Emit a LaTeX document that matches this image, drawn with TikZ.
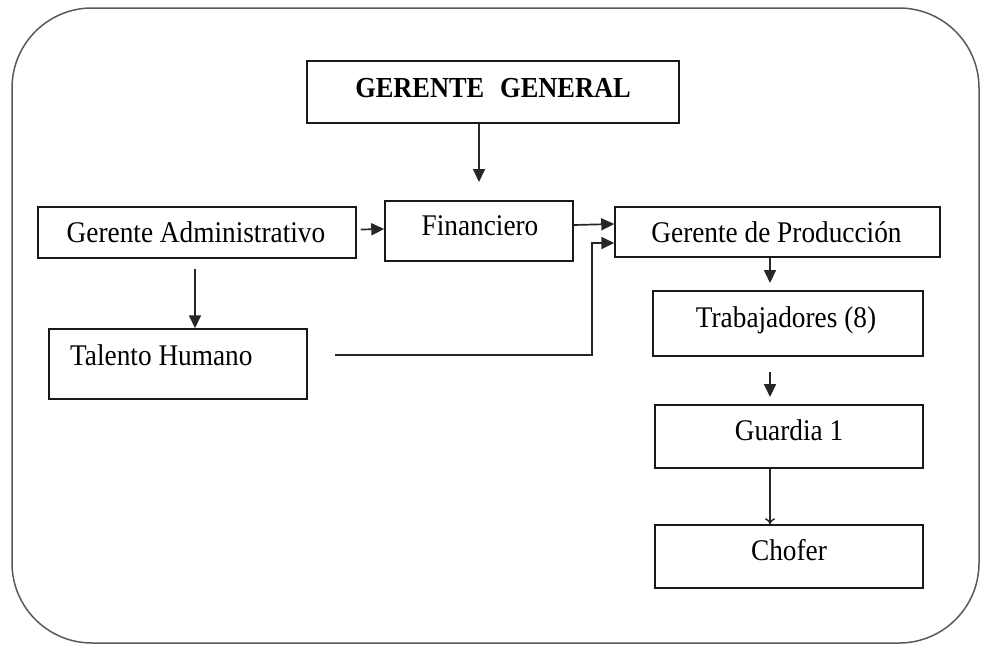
\documentclass[tikz,border=0pt]{standalone}
\usepackage{fontspec}
\setmainfont{Liberation Serif}[FakeStretch=0.91]
\usetikzlibrary{arrows.meta}
\begin{document}
\begin{tikzpicture}[x=1pt,y=-1pt,
  box/.style={draw=black!90, line width=1.5pt, rectangle, inner sep=0pt},
  lbl/.style={inner sep=0pt, anchor=base, font=\fontsize{30}{34}\selectfont},
  arr/.style={line width=1.7pt, draw=black!85, -{Triangle[length=13pt,width=12pt]}},
  thinarr/.style={line width=1.4pt, draw=black!85, -{To[length=6pt,width=10pt]}},
  ]
\useasboundingbox (0,0) rectangle (982,648);
\draw[line width=1.5pt, draw=black!65, rounded corners=80pt] (12,8) rectangle (979,643);

% boxes
\node[box, minimum width=372pt, minimum height=62pt] (gg) at (493,92) {};
\node[box, minimum width=318pt, minimum height=51pt] (ga) at (197,232.5) {};
\node[box, minimum width=188pt, minimum height=60pt] (fin) at (479,231) {};
\node[box, minimum width=325pt, minimum height=50pt] (gp) at (777.5,232) {};
\node[box, minimum width=258pt, minimum height=70pt] (th) at (178,364) {};
\node[box, minimum width=270pt, minimum height=65pt] (trab) at (788,323.5) {};
\node[box, minimum width=268pt, minimum height=63pt] (guard) at (789,436.5) {};
\node[box, minimum width=268pt, minimum height=63pt] (chofer) at (789,556.5) {};

% texts
\node[lbl, font=\fontsize{29}{34}\selectfont\bfseries] (ggt) at (493,97) {GERENTE\hspace{0.55em}GENERAL};
\node[lbl] (gat) at (196,242) {Gerente Administrativo};
\node[lbl] (fint) at (480,235) {Financiero};
\node[lbl] (gpt) at (776.5,242) {Gerente de Producción};
\node[lbl, anchor=base west] (tht) at (70,365) {Talento Humano};
\node[lbl] (trabt) at (786,327) {Trabajadores (8)};
\node[lbl] (guardt) at (789,440) {Guardia 1};
\node[lbl] (chofert) at (789,560) {Chofer};

% connectors
\coordinate (ggend) at (479,182);
\draw[arr] (ggend |- gg.south) -- (ggend);
\draw[arr] ([xshift=4pt,yshift=3pt]ga.east) -- ([yshift=2pt]fin.west);
\draw[arr] ([yshift=6pt]fin.east) -- ([yshift=8pt]gp.west);
\coordinate (thstart) at (335,355);
\coordinate (thbend) at (592,243);
\draw[arr] (thstart) -| (thbend) -- (gp.west |- thbend);
\draw[arr] ([xshift=-2pt,yshift=-10pt]ga.south) -- ([xshift=-2pt]ga.south |- th.north);
\coordinate (gptr) at (770,283);
\draw[arr] (gptr |- gp.south) -- (gptr);
\coordinate (tga) at (770,372);
\coordinate (tgb) at (770,397);
\draw[arr] (tga) -- (tgb);
\draw[thinarr] (gptr |- guard.south) -- (gptr |- chofer.north);
\end{tikzpicture}
\end{document}
